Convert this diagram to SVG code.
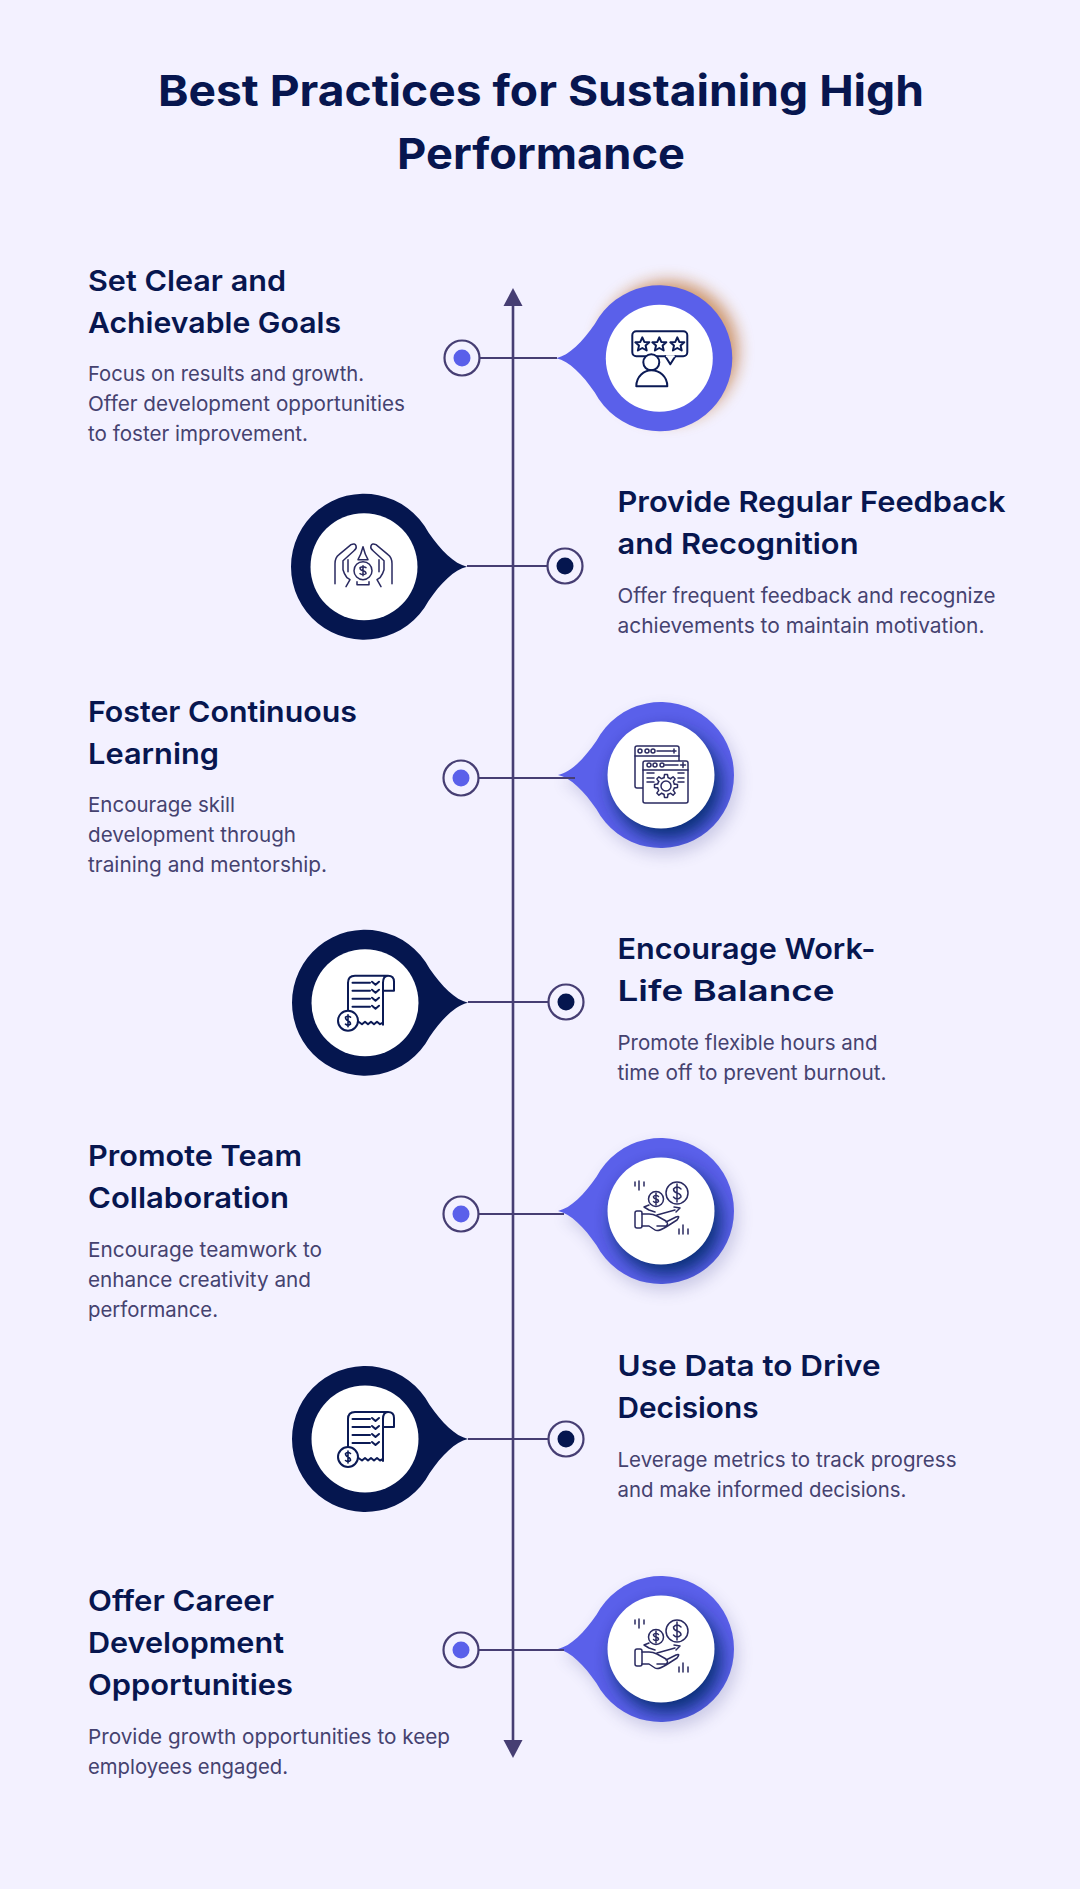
<svg xmlns="http://www.w3.org/2000/svg" width="1080" height="1889" viewBox="0 0 1080 1889">
<style>
.t{font:700 43px Inter,"Liberation Sans",sans-serif;fill:#07164f}
.h{font:600 29px Inter,"Liberation Sans",sans-serif;fill:#07164f}
.b{font:400 20.5px Inter,"Liberation Sans",sans-serif;fill:#45426f}
.ring{fill:none;stroke:#463e73;stroke-width:2.2}
.ln{fill:none;stroke:#463e73;stroke-width:2.2}
.ax{fill:none;stroke:#463e73;stroke-width:2.6}
.ic{fill:none;stroke:#0b1a55;stroke-width:2;stroke-linecap:round;stroke-linejoin:round}
.ic2{fill:none;stroke:#2a2a60;stroke-width:1.5;stroke-linecap:round;stroke-linejoin:round}
.in{fill:#5a60ea}.nv{fill:#05164f}.wh{fill:#fff}
</style>
<defs>
<path id="drop" d="M-103 0C-90 -3 -77 -16 -64.500 -34.200A73 73 0 1 1 -64.500 34.200C-77 16 -90 3 -103 0Z"/>
<clipPath id="dc"><use href="#drop"/></clipPath>
<filter id="b8" x="-50%" y="-50%" width="200%" height="200%"><feGaussianBlur stdDeviation="8"/></filter>
<filter id="b5" x="-50%" y="-50%" width="200%" height="200%"><feGaussianBlur stdDeviation="9"/></filter>
<marker id="arr" markerUnits="userSpaceOnUse" markerWidth="20" markerHeight="20" refX="1" refY="10" orient="auto-start-reverse"><path d="M0 0.500L18 10L0 19.500Z" fill="#463e73"/></marker>
<g id="shadowed">
<use href="#drop" x="4" y="7" fill="#2a2f80" opacity=".2" filter="url(#b8)"/>
<use href="#drop" class="in"/>
<g clip-path="url(#dc)"><circle cx="6" cy="10" r="54" fill="#062a6a" opacity=".9" filter="url(#b5)"/></g>
<circle r="53.500" class="wh"/>
</g>
<g id="star"><path d="M0 -7L2 -2.400L7 -2L3.300 1.300L4.400 6.200L0 3.700L-4.400 6.200L-3.300 1.300L-7 -2L-2 -2.400Z"/></g>
<path id="hand" d="M-29 17V-3Q-29 -9 -25 -12L-13 -22Q-9 -24 -8 -21Q-7 -18 -10 -16L-21 -6V3Q-20 7 -17 11L-14 13L-18 20M-16 -7V5"/>
<g id="receipt" class="ic">
<path d="M-17 9V-20Q-17 -27 -10 -27H23Q29 -27 29 -21V-12H18M23 -27Q18 -27 18 -20V22"/>
<path d="M-6.500 19L-3 21.500L0 19L3 21.500L6 19L9 21.500L12 19L15 21.500L18 20"/>
<path d="M-12.500 -20H5M-12.500 -12H5M-12.500 -4H5M-12.500 4H5"/>
<path d="M7 -21L10.500 -18L14 -21M7 -13L10.500 -10L14 -13M7 -5L10.500 -2L14 -5M7 3L10.500 6L14 3"/>
<circle cx="-17" cy="18" r="10" fill="#fff"/>
<path d="M-14.500 14.500Q-17 12.500 -19.500 14.500Q-19.500 17 -17 18Q-14.500 19 -14.500 21.500Q-17 23.500 -19.500 21.500M-17 12V24" stroke-width="1.600"/>
</g>
<g id="money" class="ic2">
<circle cx="16" cy="-18" r="11"/>
<path d="M20 -22Q16 -26 12.500 -22Q12.500 -19 16 -18Q20 -17 20 -14Q16 -10 12.500 -14M16 -27V-9"/>
<circle cx="-5" cy="-12" r="7.500"/>
<path d="M-2.500 -14.500Q-5 -17 -7.500 -14.500Q-7.500 -12.500 -5 -12Q-2.500 -11.500 -2.500 -9.500Q-5 -7 -7.500 -9.500M-5 -18V-6"/>
<path d="M-26 -29V-25M-22 -30V-21M-17 -29V-25M18 18V23M22 14V23M27 18V23"/>
<rect x="-26" y="0" width="7" height="17" rx="2"/>
<path d="M-19 3H-12Q-8 3 -4 5L5 10Q8 13 5 15H-4M5 11L15 6Q20 4 16 9L5 16Q-3 21 -6 19L-12 15H-19"/>
<path d="M-17 -4L-12 -6M-17 -4L-12 -1L-6 1M-4 4L14 -1M19 -3L13 -4M19 -3L15 1"/>
</g>
</defs>
<rect width="1080" height="1889" fill="#f3f1ff"/>
<g id="title">
<text class="t" x="158" y="106" textLength="766" lengthAdjust="spacingAndGlyphs">Best Practices for Sustaining High</text>
<text class="t" x="397" y="169" textLength="288" lengthAdjust="spacingAndGlyphs">Performance</text>
</g>
<g id="node-1">
<circle cx="668" cy="351" r="70" fill="#b9651f" opacity=".65" filter="url(#b8)"/>
<g transform="translate(659.300 358.300)">
<use href="#drop" class="in"/><circle r="53.500" class="wh"/>
<g class="ic">
<rect x="-27" y="-27" width="55" height="25" rx="4"/>
<path d="M6 -2L11 6L16 -2" fill="#fff"/><path d="M7.500 -2H14.500" stroke="#fff"/>
<use href="#star" x="-17" y="-14"/><use href="#star" x="0" y="-14"/><use href="#star" x="18" y="-14"/>
<circle cx="-8" cy="4" r="8" fill="#fff"/>
<path d="M-23 28C-23 18 -15 12 -8 12C0 12 8 18 8 28Z" fill="#fff"/>
</g></g>
<circle cx="462" cy="358" r="17.500" class="ring"/><circle cx="462" cy="358" r="8.500" class="in"/>
<text class="h" x="88" y="291" textLength="198" lengthAdjust="spacingAndGlyphs">Set Clear and</text>
<text class="h" x="88" y="332.500" textLength="253" lengthAdjust="spacingAndGlyphs">Achievable Goals</text>
<text class="b" x="88" y="381" textLength="276" lengthAdjust="spacingAndGlyphs">Focus on results and growth.</text>
<text class="b" x="88" y="411" textLength="317" lengthAdjust="spacingAndGlyphs">Offer development opportunities</text>
<text class="b" x="88" y="441" textLength="220" lengthAdjust="spacingAndGlyphs">to foster improvement.</text>
</g>
<g id="node-2">
<g transform="translate(364 566.700)">
<use href="#drop" transform="scale(-1 1)" class="nv"/><circle r="53.500" class="wh"/>
<g class="ic2">
<use href="#hand"/><use href="#hand" transform="translate(-1 0) scale(-1 1)"/>
<circle cx="-1" cy="4" r="9"/>
<path d="M2 1Q-1 -1 -4 1Q-4 3.500 -1 4Q2 4.500 2 7Q-1 9 -4 7M-1 -1V9"/>
<path d="M-6 -7Q-3 -12 -1 -20Q1 -12 4 -7M-6 -7H4M-7 15V18H5V15"/>
</g></g>
<circle cx="565" cy="566" r="17.500" class="ring"/><circle cx="565" cy="566" r="8.500" class="nv"/>
<text class="h" x="617.500" y="512" textLength="388" lengthAdjust="spacingAndGlyphs">Provide Regular Feedback</text>
<text class="h" x="617.500" y="554" textLength="241" lengthAdjust="spacingAndGlyphs">and Recognition</text>
<text class="b" x="617.500" y="603" textLength="378" lengthAdjust="spacingAndGlyphs">Offer frequent feedback and recognize</text>
<text class="b" x="617.500" y="633" textLength="367" lengthAdjust="spacingAndGlyphs">achievements to maintain motivation.</text>
</g>
<g id="node-3">
<g transform="translate(661 775)">
<use href="#shadowed"/>
<g class="ic2">
<rect x="-26" y="-29" width="44" height="42" rx="2"/>
<path d="M-26 -19H18M-4 -24H10M11 -24H15M13 -26V-22"/>
<circle cx="-21" cy="-24" r="2"/><circle cx="-14" cy="-24" r="2"/><circle cx="-8" cy="-24" r="2"/>
<rect x="-18" y="-14" width="45" height="42" rx="2" fill="#fff"/>
<path d="M-18 -5H27M4 -10H17M19.500 -10H24.500M22 -12.500V-7.500"/>
<circle cx="-12" cy="-10" r="2"/><circle cx="-6" cy="-10" r="2"/><circle cx="1" cy="-10" r="2"/>
<path d="M-14 -2H-7M-14 3H-7M-14 7H-7M17 -2H23M17 3H23M17 7H23"/>
<g transform="translate(5 11)">
<circle r="5"/>
<circle r="8.500" stroke-dasharray="2.400 4.275" stroke-dashoffset="4.500"/>
<path id="tooth" d="M8.500 -2L11.500 -1.500V1.500L8.500 2"/>
<use href="#tooth" transform="rotate(45)"/><use href="#tooth" transform="rotate(90)"/><use href="#tooth" transform="rotate(135)"/><use href="#tooth" transform="rotate(180)"/><use href="#tooth" transform="rotate(225)"/><use href="#tooth" transform="rotate(270)"/><use href="#tooth" transform="rotate(315)"/>
</g>
</g></g>
<circle cx="461" cy="778" r="17.500" class="ring"/><circle cx="461" cy="778" r="8.500" class="in"/>
<text class="h" x="88" y="722" textLength="269" lengthAdjust="spacingAndGlyphs">Foster Continuous</text>
<text class="h" x="88" y="764" textLength="131" lengthAdjust="spacingAndGlyphs">Learning</text>
<text class="b" x="88" y="812" textLength="147" lengthAdjust="spacingAndGlyphs">Encourage skill</text>
<text class="b" x="88" y="842" textLength="208" lengthAdjust="spacingAndGlyphs">development through</text>
<text class="b" x="88" y="872" textLength="239" lengthAdjust="spacingAndGlyphs">training and mentorship.</text>
</g>
<g id="node-4">
<g transform="translate(365 1002.700)">
<use href="#drop" transform="scale(-1 1)" class="nv"/><circle r="53.500" class="wh"/>
<use href="#receipt"/>
</g>
<circle cx="566" cy="1002" r="17.500" class="ring"/><circle cx="566" cy="1002" r="8.500" class="nv"/>
<text class="h" x="617.500" y="959" textLength="258" lengthAdjust="spacingAndGlyphs">Encourage Work-</text>
<text class="h" x="617.500" y="1001" textLength="217" lengthAdjust="spacingAndGlyphs">Life Balance</text>
<text class="b" x="617.500" y="1050" textLength="260" lengthAdjust="spacingAndGlyphs">Promote flexible hours and</text>
<text class="b" x="617.500" y="1080" textLength="269" lengthAdjust="spacingAndGlyphs">time off to prevent burnout.</text>
</g>
<g id="node-5">
<g transform="translate(661 1211)"><use href="#shadowed"/><use href="#money"/></g>
<circle cx="461" cy="1214" r="17.500" class="ring"/><circle cx="461" cy="1214" r="8.500" class="in"/>
<text class="h" x="88" y="1166" textLength="214" lengthAdjust="spacingAndGlyphs">Promote Team</text>
<text class="h" x="88" y="1208" textLength="201" lengthAdjust="spacingAndGlyphs">Collaboration</text>
<text class="b" x="88" y="1257" textLength="234" lengthAdjust="spacingAndGlyphs">Encourage teamwork to</text>
<text class="b" x="88" y="1287" textLength="223" lengthAdjust="spacingAndGlyphs">enhance creativity and</text>
<text class="b" x="88" y="1317" textLength="130" lengthAdjust="spacingAndGlyphs">performance.</text>
</g>
<g id="node-6">
<g transform="translate(365 1439)">
<use href="#drop" transform="scale(-1 1)" class="nv"/><circle r="53.500" class="wh"/>
<use href="#receipt"/>
</g>
<circle cx="566" cy="1439" r="17.500" class="ring"/><circle cx="566" cy="1439" r="8.500" class="nv"/>
<text class="h" x="617.500" y="1376" textLength="263" lengthAdjust="spacingAndGlyphs">Use Data to Drive</text>
<text class="h" x="617.500" y="1418" textLength="141" lengthAdjust="spacingAndGlyphs">Decisions</text>
<text class="b" x="617.500" y="1467" textLength="339" lengthAdjust="spacingAndGlyphs">Leverage metrics to track progress</text>
<text class="b" x="617.500" y="1497" textLength="289" lengthAdjust="spacingAndGlyphs">and make informed decisions.</text>
</g>
<g id="node-7">
<g transform="translate(661 1649)"><use href="#shadowed"/><use href="#money"/></g>
<circle cx="461" cy="1650" r="17.500" class="ring"/><circle cx="461" cy="1650" r="8.500" class="in"/>
<text class="h" x="88" y="1611" textLength="186" lengthAdjust="spacingAndGlyphs">Offer Career</text>
<text class="h" x="88" y="1653" textLength="196" lengthAdjust="spacingAndGlyphs">Development</text>
<text class="h" x="88" y="1695" textLength="205" lengthAdjust="spacingAndGlyphs">Opportunities</text>
<text class="b" x="88" y="1744" textLength="362" lengthAdjust="spacingAndGlyphs">Provide growth opportunities to keep</text>
<text class="b" x="88" y="1774" textLength="200" lengthAdjust="spacingAndGlyphs">employees engaged.</text>
</g>
<g id="connectors">
<path class="ax" d="M513 305V1741" marker-start="url(#arr)" marker-end="url(#arr)"/>
<path class="ln" d="M479.500 358H557"/>
<path class="ln" d="M467 566H547.500"/>
<path class="ln" d="M478.500 778H575"/>
<path class="ln" d="M468 1002H548.500"/>
<path class="ln" d="M478.500 1214H564"/>
<path class="ln" d="M468 1439H548.500"/>
<path class="ln" d="M478.500 1650H564"/>
</g>
</svg>
